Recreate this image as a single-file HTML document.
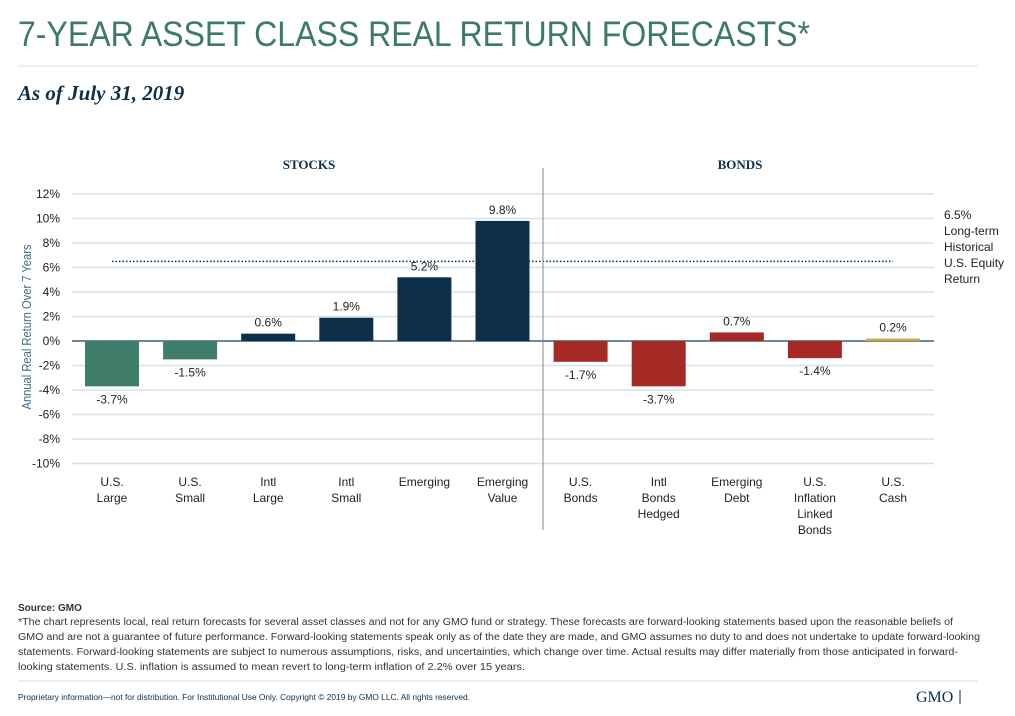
<!DOCTYPE html>
<html><head><meta charset="utf-8"><style>
body{margin:0;background:#fff;width:1015px;height:716px;overflow:hidden}
svg{display:block;font-family:"Liberation Sans",sans-serif}
</style></head><body>
<svg id="s" width="1015" height="716">
<text x="18" y="46" font-size="35" fill="#3d7a68" textLength="792" lengthAdjust="spacingAndGlyphs">7-YEAR ASSET CLASS REAL RETURN FORECASTS*</text>
<line x1="18" y1="66" x2="978" y2="66" stroke="#d4e3ea" stroke-width="1"/>
<text x="18" y="100" font-family="Liberation Serif,serif" font-style="italic" font-weight="bold" font-size="21" fill="#0d2f4a">As of July 31, 2019</text>
<text x="309" y="169" text-anchor="middle" font-family="Liberation Serif,serif" font-weight="bold" font-size="13" fill="#0d2f4a">STOCKS</text>
<text x="740" y="169" text-anchor="middle" font-family="Liberation Serif,serif" font-weight="bold" font-size="13" fill="#0d2f4a">BONDS</text>
<text transform="translate(31,327) rotate(-90)" text-anchor="middle" font-size="12.5" fill="#3a6e8a" textLength="165" lengthAdjust="spacingAndGlyphs">Annual Real Return Over 7 Years</text>
<g id="grid"></g><g id="bars"></g>
<line x1="543" y1="168" x2="543" y2="530" stroke="#888" stroke-width="1"/>
<g font-size="12" fill="#222">
<text x="944" y="219">6.5%</text><text x="944" y="235">Long-term</text><text x="944" y="251">Historical</text><text x="944" y="267">U.S. Equity</text><text x="944" y="283">Return</text></g>
<g font-size="10" fill="#333">
<text x="18" y="611" font-weight="bold">Source: GMO</text>
<text x="18" y="625" textLength="935" lengthAdjust="spacingAndGlyphs">*The chart represents local, real return forecasts for several asset classes and not for any GMO fund or strategy. These forecasts are forward-looking statements based upon the reasonable beliefs of</text>
<text x="18" y="640" textLength="962" lengthAdjust="spacingAndGlyphs">GMO and are not a guarantee of future performance. Forward-looking statements speak only as of the date they are made, and GMO assumes no duty to and does not undertake to update forward-looking</text>
<text x="18" y="655" textLength="940" lengthAdjust="spacingAndGlyphs">statements. Forward-looking statements are subject to numerous assumptions, risks, and uncertainties, which change over time. Actual results may differ materially from those anticipated in forward-</text>
<text x="18" y="670" textLength="507" lengthAdjust="spacingAndGlyphs">looking statements. U.S. inflation is assumed to mean revert to long-term inflation of 2.2% over 15 years.</text>
</g>
<line x1="18" y1="681" x2="978" y2="681" stroke="#d4e3ea"/>
<text x="18" y="700" font-size="8.5" fill="#0d2f4a" textLength="452" lengthAdjust="spacingAndGlyphs">Proprietary information—not for distribution. For Institutional Use Only. Copyright © 2019 by GMO LLC. All rights reserved.</text>
<text x="916" y="702" font-family="Liberation Serif,serif" font-size="16" fill="#0d2f4a">GMO</text>
<line x1="960" y1="690" x2="960" y2="704" stroke="#0d2f4a"/>
</svg>
<script>
const categories=[["U.S.","Large"],["U.S.","Small"],["Intl","Large"],["Intl","Small"],["Emerging"],["Emerging","Value"],["U.S.","Bonds"],["Intl","Bonds","Hedged"],["Emerging","Debt"],["U.S.","Inflation","Linked","Bonds"],["U.S.","Cash"]];
const values=[-3.7,-1.5,0.6,1.9,5.2,9.8,-1.7,-3.7,0.7,-1.4,0.2];
const groups=["us","us","ex","ex","ex","ex","bd","bd","bd","bd","cash"];
const ticks=[12,10,8,6,4,2,0,-2,-4,-6,-8,-10];
const benchmark=[6.5];
const NS="http://www.w3.org/2000/svg";
const y=v=>341-v*12.25, x=i=>112+i*78.1;
const colors={us:"#3f7d6a",ex:"#0d2f4a",bd:"#a52a25",cash:"#d4a63a"};
function mk(t,a,p){const e=document.createElementNS(NS,t);for(const k in a)e.setAttribute(k,a[k]);p.appendChild(e);return e;}
const g=document.getElementById("grid"),b=document.getElementById("bars");
ticks.forEach(t=>{
 const l=mk("line",{x1:72,x2:934,y1:y(t),y2:y(t),stroke:t===0?"#3a6278":"#d4e3ea","stroke-width":t===0?1.5:1.5},g);
 
 
 const tx=mk("text",{x:60,y:y(t)+4,"text-anchor":"end","font-size":12,fill:"#222"},g);
 tx.textContent=t+"%";
 
 
});
values.forEach((v,i)=>{
 const top=Math.min(y(v),y(0)),h=Math.max(Math.abs(y(v)-y(0)),2);
 const r=mk("rect",{x:x(i)-27,y:v>=0?top-(h-Math.abs(y(v)-y(0))):top,width:54,height:h,fill:colors[groups[i]]},b);
 
 
 const lb=mk("text",{x:x(i),y:v>=0?y(v)-7:y(v)+17,"text-anchor":"middle","font-size":12,fill:"#222"},b);
 lb.textContent=v.toFixed(1)+"%";
 
 
 categories[i].forEach((w,j)=>{
  const c=mk("text",{x:x(i),y:486+j*16,"text-anchor":"middle","font-size":12,fill:"#222"},b);
  c.textContent=w;
  
  
 });
});
const d=mk("line",{x1:x(0),x2:x(10),y1:y(benchmark[0]),y2:y(benchmark[0]),stroke:"#0d2f4a","stroke-width":1.5,"stroke-dasharray":"1.5 2"},b);


</script>
</body></html>
